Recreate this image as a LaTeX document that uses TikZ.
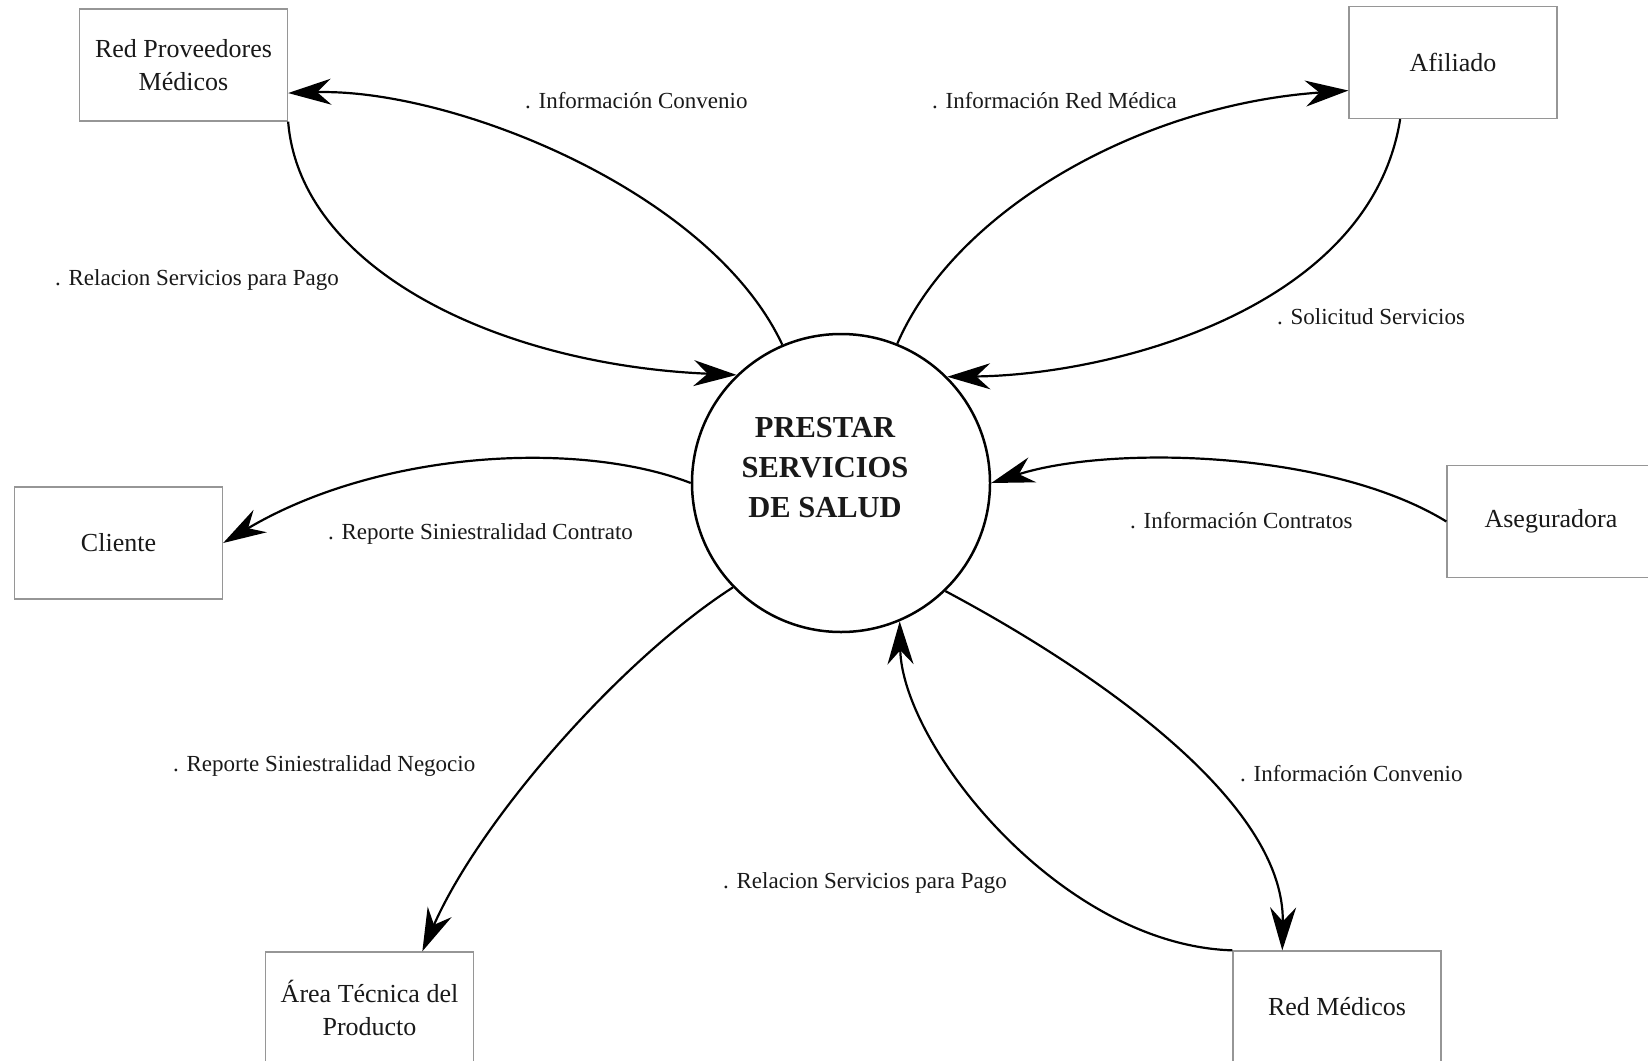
\documentclass[tikz,border=0pt]{standalone}
\usepackage{fontspec}
\setmainfont{Liberation Serif}
\usetikzlibrary{arrows.meta}
\definecolor{framegray}{RGB}{150,150,150}
\definecolor{ink}{RGB}{25,25,25}

\begin{document}
\begin{tikzpicture}[x=1pt,y=-1pt,
  entity/.style={draw=framegray, line width=1.3pt, minimum width=208pt,
    minimum height=112pt, inner sep=0pt, align=center,
    font=\fontsize{26}{33}\selectfont, text=ink},
  process/.style={circle, draw, line width=2.5pt, minimum size=298pt, inner sep=0pt},
  flow/.style={line width=2.2pt, -{Stealth[length=43pt,width=26pt,inset=14pt]}},
  lbl/.style={anchor=west, inner sep=0pt, font=\fontsize{23}{27}\selectfont, text=ink},
]
\fill[white] (0,0) rectangle (1648,1060);
\useasboundingbox (0,0) rectangle (1648,1060);

% central process
\node[process] (proc) at (841,483) {};
\node[font=\bfseries\fontsize{30.5}{40}\selectfont, align=center, text=ink]
  (proctext) at (825,468) {PRESTAR\\SERVICIOS\\DE SALUD};

% external entities
\node[entity] (rpm) at (183.5,65)  {Red Proveedores\\Médicos};
\node[entity] (afi) at (1453,62.5) {Afiliado};
\node[entity] (cli) at (118.5,543) {Cliente};
\node[entity] (ase) at (1551,521.5) {Aseguradora};
\node[entity] (are) at (369.5,1008) {Área Técnica del\\Producto};
\node[entity] (rme) at (1337,1007) {Red Médicos};

% data flows
\draw[flow] (proc.113) .. controls (710,190) and (450,88) .. (rpm.345.4);
\draw[flow] (rpm.south east) .. controls (300,270) and (500,365) .. (proc.134.7);
\draw[flow] (proc.68.3) .. controls (955,210) and (1140,105) .. (afi.195.7);
\draw[flow] (afi.227.4) .. controls (1370,310) and (1110,375) .. (proc.45.8);
\draw[flow] (ase.west) .. controls (1330,450) and (1110,445) .. (proc.0.8);
\draw[flow] (proc.180) .. controls (580,440) and (380,450) .. (cli.east);
\draw[flow] (proc.224.2) .. controls (620,660) and (480,820) .. (are.47.4);
\draw[flow] (proc.314.7) .. controls (1090,668) and (1285,800) .. (rme.134);
\draw[flow] (rme.north west) .. controls (1060,945) and (902,745) .. (proc.293);

% flow labels
\node[lbl] (l1) at (525,101)  {. Información Convenio};
\node[lbl] (l2) at (55,280)   {. Relacion Servicios para Pago};
\node[lbl] (l3) at (932,101)  {. Información Red Médica};
\node[lbl] (l4) at (1277,317) {. Solicitud Servicios};
\node[lbl] (l5) at (1130,521) {. Información Contratos};
\node[lbl] (l6) at (328,534)  {. Reporte Siniestralidad Contrato};
\node[lbl] (l7) at (173,766)  {. Reporte Siniestralidad Negocio};
\node[lbl] (l8) at (1240,774) {. Información Convenio};
\node[lbl] (l9) at (723,883)  {. Relacion Servicios para Pago};
\end{tikzpicture}
\end{document}
